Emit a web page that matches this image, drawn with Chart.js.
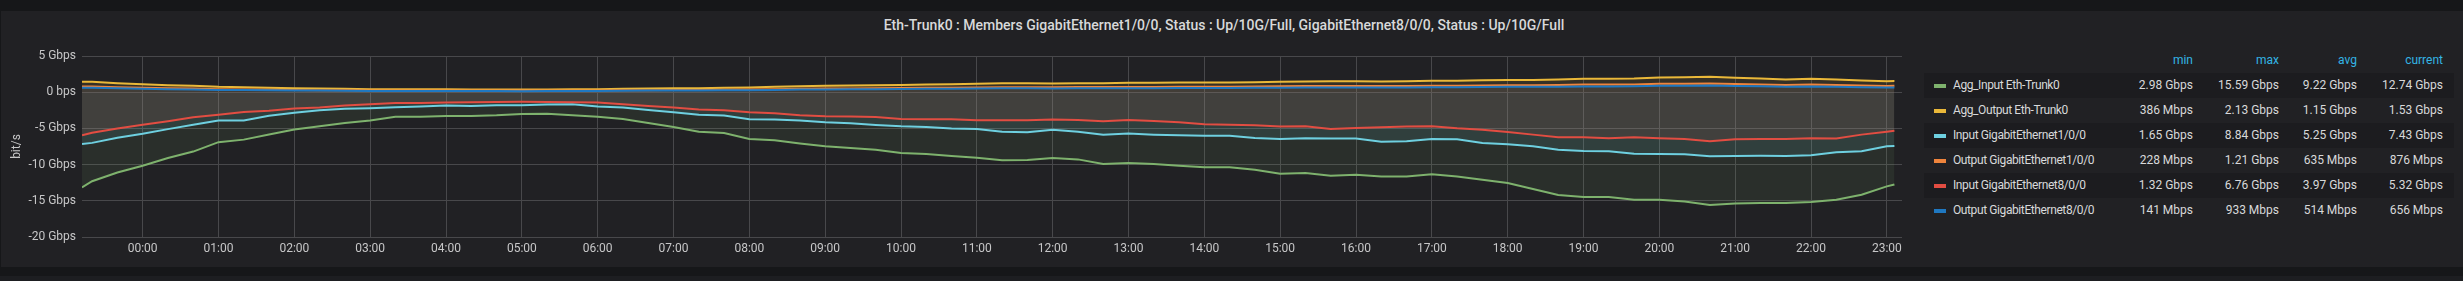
<!DOCTYPE html>
<html lang="en">
<head>
  <meta charset="UTF-8">
  <title>Eth-Trunk0</title>
  <script src="https://cdn.jsdelivr.net/npm/chart.js"></script>
  <style>
    body {
      margin: 0;
      width: 2463px;
      height: 281px;
      background: #161719;
      font-family: Roboto, sans-serif;
      overflow: hidden;
      position: relative;
    }
    .panel {
      position: absolute;
      left: 1px;
      top: 11px;
      width: 2462px;
      height: 256px;
      background: #212124;
    }
    .below {
      position: absolute;
      left: 0;
      top: 276px;
      width: 2463px;
      height: 5px;
      background: #1d1e21;
    }
    .title {
      position: absolute;
      left: 0;
      top: 16px;
      width: 2448px;
      text-align: center;
      font-size: 14px;
      font-weight: 500;
      color: #d8d9da;
      line-height: 18px;
    }
    #chartCanvas {
      position: absolute;
      left: 0;
      top: 0;
    }
    .legend {
      position: absolute;
      left: 1924px;
      top: 48px;
      width: 530px;
      font-size: 12px;
      color: #d8d9da;
    }
    .legend .row {
      position: relative;
      height: 25px;
      line-height: 25px;
    }
    .legend .row.odd {
      background: #1c1c1f;
    }
    .legend .head {
      color: #33b5e5;
    }
    .legend .sw {
      position: absolute;
      left: 10px;
      top: 11px;
      width: 12px;
      height: 4px;
    }
    .legend .name {
      position: absolute;
      left: 29px;
      letter-spacing: -0.4px;
    }
    .legend .val {
      position: absolute;
      text-align: right;
      width: 80px;
    }
  </style>
</head>
<body>
  <div class="panel"></div>
  <div class="below"></div>
  <div class="title">Eth-Trunk0 : Members GigabitEthernet1/0/0, Status : Up/10G/Full, GigabitEthernet8/0/0, Status : Up/10G/Full</div>
  <canvas id="chartCanvas" width="1910" height="267"></canvas>
  <div class="legend" id="legend"></div>

  <script>
    // minutes from 00:00 (first samples belong to the previous day)
    const times = [
      -48, -40, -20, 0, 20, 40, 60, 80, 100, 120, 140, 160, 180,
      200, 220, 240, 260, 280, 300, 320, 340, 360, 380, 400, 420,
      440, 460, 480, 500, 520, 540, 560, 580, 600, 620, 640, 660,
      680, 700, 720, 740, 760, 780, 800, 820, 840, 860, 880, 900,
      920, 940, 960, 980, 1000, 1020, 1040, 1060, 1080, 1100, 1120, 1140,
      1160, 1180, 1200, 1220, 1240, 1260, 1280, 1300, 1320, 1340, 1360, 1380,
      1386
    ];
    const hourLabels = ['00:00', '01:00', '02:00', '03:00', '04:00', '05:00', '06:00', '07:00',
      '08:00', '09:00', '10:00', '11:00', '12:00', '13:00', '14:00', '15:00',
      '16:00', '17:00', '18:00', '19:00', '20:00', '21:00', '22:00', '23:00'];
    const yTicks = [5, 0, -5, -10, -15, -20];

    // Gbps, inputs drawn negative
    const aggInput = [
      -13.15, -12.3, -11.1, -10.15, -9.1, -8.2, -6.9, -6.55, -5.85, -5.15, -4.7, -4.25, -3.9,
      -3.4, -3.4, -3.3, -3.3, -3.2, -3.0, -2.98, -3.2, -3.4, -3.7, -4.25, -4.8,
      -5.45, -5.63, -6.46, -6.65, -7.1, -7.48, -7.7, -7.94, -8.4, -8.54, -8.8, -9.05,
      -9.41, -9.37, -9.09, -9.28, -9.92, -9.78, -9.92, -10.15, -10.38, -10.38, -10.7, -11.26,
      -11.17, -11.54, -11.4, -11.63, -11.63, -11.35, -11.63, -12.09, -12.55, -13.38, -14.21, -14.49,
      -14.49, -14.86, -14.86, -15.09, -15.59, -15.37, -15.32, -15.32, -15.18, -14.86, -14.17, -13.01,
      -12.74
    ];
    const aggOutput = [
      1.43, 1.43, 1.25, 1.1, 0.97, 0.88, 0.74, 0.69, 0.6, 0.55, 0.5, 0.46, 0.42,
      0.41, 0.41, 0.4, 0.39, 0.39, 0.386, 0.39, 0.4, 0.42, 0.46, 0.5, 0.55,
      0.55, 0.6, 0.65, 0.74, 0.83, 0.88, 0.92, 0.97, 1.0, 1.06, 1.1, 1.15,
      1.22, 1.24, 1.2, 1.25, 1.25, 1.29, 1.29, 1.34, 1.34, 1.34, 1.38, 1.43,
      1.48, 1.52, 1.52, 1.48, 1.52, 1.57, 1.57, 1.66, 1.7, 1.7, 1.75, 1.85,
      1.85, 1.89, 2.03, 2.08, 2.13, 1.98, 1.89, 1.75, 1.85, 1.75, 1.62, 1.52,
      1.53
    ];
    const inGi1 = [
      -7.15, -7.0, -6.3, -5.75, -5.1, -4.5, -3.9, -3.9, -3.25, -2.85, -2.5, -2.3, -2.2,
      -2.08, -1.98, -1.85, -1.9, -1.8, -1.8, -1.7, -1.65, -1.98, -2.12, -2.45, -2.77,
      -3.1, -3.23, -3.74, -3.78, -3.92, -4.15, -4.3, -4.52, -4.7, -4.8, -5.03, -5.08,
      -5.45, -5.54, -5.17, -5.45, -5.86, -5.72, -5.86, -5.95, -6.0, -6.0, -6.32, -6.46,
      -6.37, -6.41, -6.41, -6.83, -6.78, -6.46, -6.5, -7.01, -7.2, -7.48, -7.94, -8.12,
      -8.17, -8.49, -8.54, -8.58, -8.84, -8.8, -8.77, -8.8, -8.72, -8.31, -8.17, -7.48,
      -7.43
    ];
    const outGi1 = [
      0.80, 0.80, 0.70, 0.62, 0.55, 0.50, 0.42, 0.39, 0.34, 0.31, 0.28, 0.26, 0.24,
      0.23, 0.23, 0.23, 0.23, 0.228, 0.23, 0.23, 0.23, 0.24, 0.26, 0.28, 0.31,
      0.31, 0.34, 0.37, 0.42, 0.47, 0.5, 0.52, 0.55, 0.57, 0.6, 0.62, 0.65,
      0.69, 0.7, 0.68, 0.71, 0.71, 0.73, 0.73, 0.76, 0.76, 0.76, 0.78, 0.81,
      0.84, 0.86, 0.86, 0.84, 0.86, 0.89, 0.89, 0.94, 0.96, 0.96, 0.99, 1.05,
      1.05, 1.07, 1.15, 1.18, 1.21, 1.12, 1.07, 0.99, 1.05, 0.99, 0.92, 0.87,
      0.876
    ];
    const inGi8 = [
      -5.95, -5.6, -5.0, -4.5, -4.0, -3.45, -3.1, -2.75, -2.55, -2.25, -2.1, -1.85, -1.65,
      -1.48, -1.48, -1.43, -1.38, -1.34, -1.32, -1.34, -1.38, -1.43, -1.66, -1.9, -2.12,
      -2.4, -2.5, -2.77, -2.9, -3.18, -3.32, -3.37, -3.42, -3.7, -3.74, -3.74, -3.88,
      -3.88, -3.88, -3.78, -3.83, -4.01, -3.83, -3.97, -4.15, -4.43, -4.48, -4.57, -4.75,
      -4.71, -5.08, -4.94, -4.85, -4.75, -4.71, -4.98, -5.17, -5.49, -5.86, -6.23, -6.23,
      -6.37, -6.23, -6.37, -6.46, -6.76, -6.51, -6.46, -6.46, -6.37, -6.41, -5.86, -5.45,
      -5.32
    ];
    const outGi8 = [
      0.63, 0.63, 0.55, 0.48, 0.42, 0.38, 0.32, 0.30, 0.26, 0.24, 0.22, 0.20, 0.18,
      0.17, 0.17, 0.16, 0.15, 0.15, 0.141, 0.15, 0.16, 0.17, 0.2, 0.22, 0.24,
      0.24, 0.26, 0.28, 0.32, 0.36, 0.38, 0.4, 0.42, 0.43, 0.46, 0.48, 0.5,
      0.53, 0.54, 0.52, 0.54, 0.54, 0.56, 0.56, 0.58, 0.58, 0.58, 0.6, 0.62,
      0.64, 0.66, 0.66, 0.64, 0.66, 0.68, 0.68, 0.72, 0.74, 0.74, 0.76, 0.8,
      0.8, 0.82, 0.88, 0.9, 0.933, 0.86, 0.82, 0.76, 0.8, 0.76, 0.7, 0.66,
      0.656
    ];

    const seriesNames = ['Agg_Input Eth-Trunk0', 'Agg_Output Eth-Trunk0', 'Input GigabitEthernet1/0/0',
      'Output GigabitEthernet1/0/0', 'Input GigabitEthernet8/0/0', 'Output GigabitEthernet8/0/0'];
    const seriesData = [aggInput, aggOutput, inGi1, outGi1, inGi8, outGi8];
    const mins = ['2.98 Gbps', '386 Mbps', '1.65 Gbps', '228 Mbps', '1.32 Gbps', '141 Mbps'];
    const maxs = ['15.59 Gbps', '2.13 Gbps', '8.84 Gbps', '1.21 Gbps', '6.76 Gbps', '933 Mbps'];
    const avgs = ['9.22 Gbps', '1.15 Gbps', '5.25 Gbps', '635 Mbps', '3.97 Gbps', '514 Mbps'];
    const currents = ['12.74 Gbps', '1.53 Gbps', '7.43 Gbps', '876 Mbps', '5.32 Gbps', '656 Mbps'];

    const colors = ['#7eb26d', '#eab839', '#6ed0e0', '#ef843c', '#e24d42', '#1f78c1'];
    const fills = ['rgba(126,178,109,0.1)', 'rgba(234,184,57,0.1)', 'rgba(110,208,224,0.1)',
      'rgba(239,132,60,0.1)', 'rgba(226,77,66,0.1)', 'rgba(31,120,193,0.1)'];

    Chart.defaults.font.family = 'Roboto, sans-serif';
    Chart.defaults.font.size = 12;

    const chartCtx = document.getElementById('chartCanvas').getContext('2d');
    const chart = new Chart(chartCtx, {
      type: 'line',
      data: {
        datasets: seriesNames.map((name, i) => ({
          label: name,
          data: times.map((t, j) => ({ x: t, y: seriesData[i][j] })),
          borderColor: colors[i],
          backgroundColor: fills[i],
          borderWidth: 2,
          pointRadius: 0,
          tension: 0,
          fill: 'origin',
          order: seriesNames.length - i
        }))
      },
      options: {
        responsive: false,
        animation: false,
        layout: { padding: { top: 56, right: 8, left: 0, bottom: 0 } },
        plugins: { legend: { display: false }, tooltip: { enabled: false } },
        scales: {
          x: {
            type: 'linear',
            min: -48,
            max: 1392,
            border: { display: false },
            grid: { color: '#48484b', drawTicks: false },
            ticks: {
              color: '#c7c7c8',
              padding: 5,
              autoSkip: false,
              maxRotation: 0,
              callback: v => hourLabels[v / 60]
            },
            afterBuildTicks: s => { s.ticks = hourLabels.map((l, i) => ({ value: i * 60 })); },
            afterFit: s => { s.height = 30; }
          },
          y: {
            min: -20,
            max: 5,
            border: { display: false },
            grid: { color: '#48484b', drawTicks: false },
            ticks: {
              color: '#c7c7c8',
              padding: 6,
              callback: v => v === 0 ? '0 bps' : v + ' Gbps'
            },
            afterBuildTicks: s => { s.ticks = yTicks.map(v => ({ value: v })); },
            title: { display: true, text: 'bit/s', color: '#c7c7c8', padding: { top: 10, bottom: 0 } },
            afterFit: s => { s.width = 82; }
          }
        }
      }
    });

    // legend table
    const legend = document.getElementById('legend');
    const colRight = [269, 355, 433, 519];
    function addRow(cls, name, color, vals) {
      const row = document.createElement('div');
      row.className = 'row ' + cls;
      if (color) {
        const sw = document.createElement('div');
        sw.className = 'sw';
        sw.style.background = color;
        row.appendChild(sw);
      }
      if (name) {
        const n = document.createElement('div');
        n.className = 'name';
        n.textContent = name;
        row.appendChild(n);
      }
      vals.forEach((v, k) => {
        const d = document.createElement('div');
        d.className = 'val';
        d.style.left = (colRight[k] - 80) + 'px';
        d.textContent = v;
        row.appendChild(d);
      });
      legend.appendChild(row);
    }
    addRow('head', '', null, ['min', 'max', 'avg', 'current']);
    seriesNames.forEach((name, i) => {
      addRow(i % 2 === 0 ? 'odd' : '', name, colors[i], [mins[i], maxs[i], avgs[i], currents[i]]);
    });
  </script>
</body>
</html>
